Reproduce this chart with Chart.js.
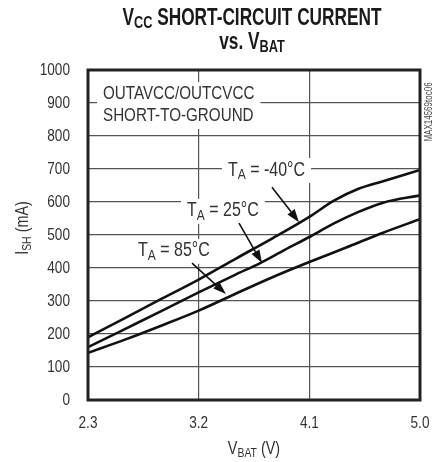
<!DOCTYPE html>
<html>
<head>
<meta charset="utf-8">
<script src="https://cdn.jsdelivr.net/npm/chart.js@4.4.1/dist/chart.umd.min.js"></script>
<style>
  html, body { margin: 0; padding: 0; background: #fff; }
  #wrap { width: 442px; height: 462px; }
</style>
</head>
<body>
<div id="wrap"><canvas id="chart" width="442" height="462"></canvas></div>
<script>
// data
const vbat40 = [2.3, 2.6, 2.9, 3.2, 3.5, 3.8, 4.1, 4.3, 4.5, 4.7, 5.0];
const ish40  = [190, 248, 307, 365, 428, 490, 555, 604, 640, 663, 697];
const vbat25 = [2.3, 2.6, 2.9, 3.2, 3.5, 3.7, 3.9, 4.1, 4.3, 4.5, 4.7, 5.0];
const ish25  = [160, 215, 270, 326, 380, 415, 455, 494, 535, 570, 598, 620];
const vbat85 = [2.3, 2.6, 2.9, 3.2, 3.5, 3.8, 4.1, 4.4, 4.7, 5.0];
const ish85  = [143, 183, 226, 271, 322, 372, 418, 462, 507, 548];
const xTicks = [2.3, 3.2, 4.1, 5.0];
const yTicks = [0, 100, 200, 300, 400, 500, 600, 700, 800, 900, 1000];

// no condensed font installed, so text gets squeezed sideways
const FONT = '"Liberation Sans", Arial, sans-serif';
const SQ = 0.8;

function toPts(xs, ys) {
  return xs.map((x, i) => ({ x: x, y: ys[i] }));
}

// parts: [text, fontSize, yOffset]
function partsWidth(ctx, parts, weight, sq) {
  let w = 0;
  parts.forEach(p => {
    ctx.font = (weight || '') + ' ' + p[1] + 'px ' + FONT;
    w += ctx.measureText(p[0]).width;
  });
  return w * (sq || SQ);
}

function drawParts(ctx, parts, x, y, align, weight, sq) {
  sq = sq || SQ;
  const w = partsWidth(ctx, parts, weight, sq);
  let cx = x;
  if (align === 'center') cx = x - w / 2;
  if (align === 'right') cx = x - w;
  ctx.save();
  ctx.translate(cx, y);
  ctx.scale(sq, 1);
  ctx.textBaseline = 'middle';
  ctx.textAlign = 'left';
  let ox = 0;
  parts.forEach(p => {
    ctx.font = (weight || '') + ' ' + p[1] + 'px ' + FONT;
    ctx.fillText(p[0], ox, p[2]);
    ox += ctx.measureText(p[0]).width;
  });
  ctx.restore();
  return w;
}

// annotation texts, placed in data units
const notes = [
  { x: 2.422, y: 927, parts: [['OUTAVCC/OUTCVCC', 19, 0]] },
  { x: 2.422, y: 861, parts: [['SHORT-TO-GROUND', 19, 0]] },
  { x: 3.438, y: 697, parts: [['T', 20, 0], ['A', 15, 5], [' = -40°C', 20, 0]] },
  { x: 3.105, y: 573, parts: [['T', 20, 0], ['A', 15, 5], [' = 25°C', 20, 0]] },
  { x: 2.707, y: 452, parts: [['T', 20, 0], ['A', 15, 5], [' = 85°C', 20, 0]] }
];
const arrows = [
  { from: [3.796, 645], to: [4.016, 539] },
  { from: [3.528, 536], to: [3.715, 415] },
  { from: [3.146, 415], to: [3.422, 321] }
];

const decor = {
  id: 'decor',
  beforeDatasetsDraw(chart) {
    const ctx = chart.ctx;
    const xs = chart.scales.x, ys = chart.scales.y;
    ctx.save();
    notes.forEach(n => {
      const px = xs.getPixelForValue(n.x), py = ys.getPixelForValue(n.y);
      const w = partsWidth(ctx, n.parts);
      ctx.fillStyle = '#fff';
      ctx.fillRect(px - 6, py - 12, w + 12, 25);
      ctx.fillStyle = '#333';
      drawParts(ctx, n.parts, px, py, 'left');
    });
    ctx.restore();
  },
  afterDatasetsDraw(chart) {
    const ctx = chart.ctx;
    const xs = chart.scales.x, ys = chart.scales.y;
    const a = chart.chartArea;
    ctx.save();
    // arrows
    ctx.strokeStyle = '#111';
    ctx.fillStyle = '#111';
    arrows.forEach(ar => {
      const x1 = xs.getPixelForValue(ar.from[0]), y1 = ys.getPixelForValue(ar.from[1]);
      const x2 = xs.getPixelForValue(ar.to[0]), y2 = ys.getPixelForValue(ar.to[1]);
      const ang = Math.atan2(y2 - y1, x2 - x1);
      const hl = 13, hw = 4.5;
      ctx.lineWidth = 1.6;
      ctx.beginPath();
      ctx.moveTo(x1, y1);
      ctx.lineTo(x2 - hl * Math.cos(ang), y2 - hl * Math.sin(ang));
      ctx.stroke();
      ctx.beginPath();
      ctx.moveTo(x2, y2);
      ctx.lineTo(x2 - hl * Math.cos(ang) + hw * Math.sin(ang), y2 - hl * Math.sin(ang) - hw * Math.cos(ang));
      ctx.lineTo(x2 - hl * Math.cos(ang) - hw * Math.sin(ang), y2 - hl * Math.sin(ang) + hw * Math.cos(ang));
      ctx.closePath();
      ctx.fill();
    });
    // frame
    ctx.lineWidth = 3;
    ctx.strokeStyle = '#222';
    ctx.strokeRect(a.left, a.top, a.right - a.left, a.bottom - a.top);
    ctx.restore();
  },
  afterDraw(chart) {
    const ctx = chart.ctx;
    const a = chart.chartArea;
    const xs = chart.scales.x, ys = chart.scales.y;
    ctx.save();
    // tick labels
    ctx.fillStyle = '#333';
    yTicks.forEach(v => {
      drawParts(ctx, [[String(v), 17, 0]], a.left - 18, ys.getPixelForValue(v), 'right');
    });
    xTicks.forEach(v => {
      drawParts(ctx, [[v.toFixed(1), 17, 0]], xs.getPixelForValue(v), 423, 'center');
    });
    // title
    ctx.fillStyle = '#1a1a1a';
    drawParts(ctx, [['V', 23, 0], ['CC', 17, 4], [' SHORT-CIRCUIT CURRENT', 23, 0]], 252, 19, 'center', 'bold', 0.75);
    drawParts(ctx, [['vs. V', 23, 0], ['BAT', 17, 4]], 252, 43, 'center', 'bold', 0.75);
    // axis titles
    ctx.fillStyle = '#333';
    drawParts(ctx, [['V', 18, 0], ['BAT', 13, 4], [' (V)', 18, 0]], (a.left + a.right) / 2, 449, 'center');
    ctx.save();
    ctx.translate(23, 228);
    ctx.rotate(-Math.PI / 2);
    drawParts(ctx, [['I', 18, 0], ['SH', 13, 4], [' (mA)', 18, 0]], 0, 0, 'center');
    ctx.restore();
    // side code
    ctx.save();
    ctx.translate(429, 112);
    ctx.rotate(-Math.PI / 2);
    ctx.fillStyle = '#444';
    drawParts(ctx, [['MAX14569toc06', 10, 0]], 0, 0, 'center');
    ctx.restore();
    ctx.restore();
  }
};

function lineSet(label, xs, ys) {
  return {
    label: label,
    data: toPts(xs, ys),
    borderColor: '#111',
    borderWidth: 2.6,
    pointRadius: 0,
    fill: false,
    tension: 0.35,
    cubicInterpolationMode: 'monotone'
  };
}

new Chart(document.getElementById('chart'), {
  type: 'line',
  data: {
    datasets: [
      lineSet('TA = -40°C', vbat40, ish40),
      lineSet('TA = 25°C', vbat25, ish25),
      lineSet('TA = 85°C', vbat85, ish85)
    ]
  },
  options: {
    responsive: false,
    animation: false,
    layout: { padding: { left: 0, right: 22, top: 70, bottom: 0 } },
    plugins: { legend: { display: false }, tooltip: { enabled: false }, title: { display: false } },
    scales: {
      x: {
        type: 'linear',
        min: 2.3,
        max: 5.0,
        afterFit(scale) { scale.height = 62; },
        afterBuildTicks(scale) { scale.ticks = xTicks.map(v => ({ value: v })); },
        border: { display: false },
        grid: { color: '#555', lineWidth: 1.2, drawTicks: false },
        ticks: { display: false }
      },
      y: {
        type: 'linear',
        min: 0,
        max: 1000,
        afterFit(scale) { scale.width = 88; },
        afterBuildTicks(scale) { scale.ticks = yTicks.map(v => ({ value: v })); },
        border: { display: false },
        grid: { color: '#555', lineWidth: 1.2, drawTicks: false },
        ticks: { display: false }
      }
    }
  },
  plugins: [decor]
});
</script>
</body>
</html>
